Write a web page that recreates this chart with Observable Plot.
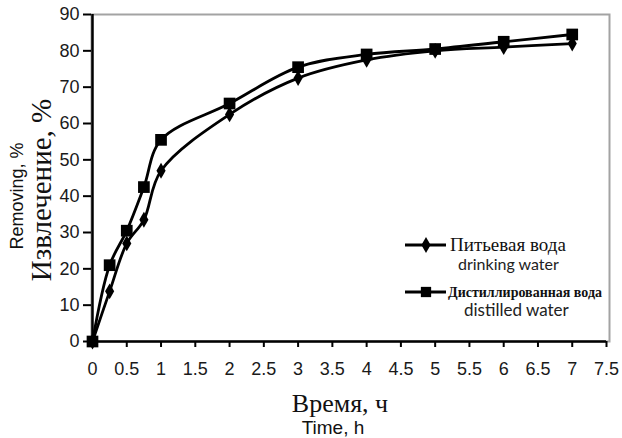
<!DOCTYPE html>
<html>
<head>
<meta charset="utf-8">
<script src="https://cdn.jsdelivr.net/npm/d3@7"></script>
<script src="https://cdn.jsdelivr.net/npm/@observablehq/plot@0.6"></script>
<style>
  html, body { margin: 0; padding: 0; background: #fff; }
  #chart svg { display: block; }
</style>
</head>
<body>
<div id="chart"></div>
<script>
// Sampling times, hours
const timeH = [0, 0.25, 0.5, 0.75, 1, 2, 3, 4, 5, 6, 7];
// Extraction, % — drinking water
const drinking = [0, 13.8, 27, 33.5, 47, 62.5, 72.5, 77.5, 80, 81, 82];
// Extraction, % — distilled water
const distilled = [0, 21, 30.5, 42.5, 55.5, 65.5, 75.5, 79, 80.5, 82.5, 84.5];

const seriesNames = ["Питьевая вода", "Дистиллированная вода"];
const seriesNamesEn = ["drinking water", "distilled water"];
const seriesSymbols = ["diamond", "square"];

const xTicks = [0, 0.5, 1, 1.5, 2, 2.5, 3, 3.5, 4, 4.5, 5, 5.5, 6, 6.5, 7, 7.5];
const yTicks = [0, 10, 20, 30, 40, 50, 60, 70, 80, 90];

const rows = [drinking, distilled].flatMap((vals, s) =>
  timeH.map((t, i) => ({t, v: vals[i], s: seriesNames[s], sym: seriesSymbols[s]}))
);

const W = 622, H = 438;
const svg = Plot.plot({
  width: W,
  height: H,
  marginLeft: 91,
  marginRight: 13,
  marginTop: 14,
  marginBottom: 97,
  style: {fontFamily: "Liberation Sans, Arial, sans-serif", fontSize: "18px", color: "#1a1a1a", background: "#fff"},
  x: {domain: [0, 7.5], range: [92, 606]},
  y: {domain: [0, 90]},
  marks: [
    Plot.frame({stroke: "#a3a3a3", strokeWidth: 2}),
    Plot.axisX({ticks: xTicks, tickSize: 6, tickPadding: 15, strokeWidth: 2, stroke: "#000",
      tickFormat: d => String(d), label: null}),
    Plot.axisY({ticks: yTicks, tickSize: 8, tickPadding: 4, strokeWidth: 2, stroke: "#000",
      label: null}),
    Plot.ruleX([0], {stroke: "#000", strokeWidth: 2.5}),
    Plot.ruleY([0], {stroke: "#000", strokeWidth: 2.5, x1: 0, x2: 7.5}),
    Plot.line(rows, {x: "t", y: "v", z: "s", stroke: "#000", strokeWidth: 2.8, curve: "catmull-rom"}),
    Plot.dot(rows.filter(d => d.sym === "diamond"), {x: "t", y: "v", symbol: "diamond", r: 4.8, fill: "#000"}),
    Plot.dot(rows.filter(d => d.sym === "square"), {x: "t", y: "v", symbol: "square", r: 6.6, fill: "#000"})
  ]
});

const root = d3.select(svg);
const serif = "Liberation Serif, 'Times New Roman', serif";

// Axis titles (Russian with English translation)
root.append("text")
  .attr("transform", "translate(51,190) rotate(-90)")
  .attr("text-anchor", "middle")
  .style("font-family", serif)
  .style("font-size", "29px")
  .attr("fill", "#111")
  .text("Извлечение, %");
root.append("text")
  .attr("transform", "translate(23,196) rotate(-90)")
  .attr("text-anchor", "middle")
  .style("font-size", "18px")
  .attr("fill", "#111")
  .text("Removing, %");
root.append("text")
  .attr("x", 340).attr("y", 412)
  .attr("text-anchor", "middle")
  .style("font-family", serif)
  .style("font-size", "26px")
  .attr("fill", "#111")
  .text("Время, ч");
root.append("text")
  .attr("x", 333).attr("y", 434)
  .attr("text-anchor", "middle")
  .style("font-size", "19px")
  .attr("fill", "#111")
  .text("Time, h");

// Legend
const legendY = [245, 292];
const ruFont = [
  {size: "19px", weight: "normal", x: 450, dy: 6},
  {size: "14px", weight: "bold", x: 448, dy: 5}
];
const enFont = [
  {size: "16px", x: 458, dy: 25},
  {size: "17px", x: 464, dy: 24}
];
const leg = root.append("g").attr("text-anchor", "start");
seriesNames.forEach((name, i) => {
  const y = legendY[i];
  leg.append("line").attr("x1", 405).attr("x2", 446).attr("y1", y).attr("y2", y)
    .attr("stroke", "#000").attr("stroke-width", 2.8);
  const sym = i === 0 ? d3.symbolDiamond : d3.symbolSquare;
  const size = i === 0 ? Math.PI * 4.8 * 4.8 : Math.PI * 5.8 * 5.8;
  leg.append("path").attr("d", d3.symbol(sym, size)()).attr("transform", `translate(426,${y})`).attr("fill", "#000");
  leg.append("text").attr("x", ruFont[i].x).attr("y", y + ruFont[i].dy)
    .attr("text-anchor", "start")
    .style("font-family", serif)
    .style("font-size", ruFont[i].size).style("font-weight", ruFont[i].weight)
    .attr("fill", "#111").text(name);
  leg.append("text").attr("x", enFont[i].x).attr("y", y + enFont[i].dy)
    .attr("text-anchor", "start")
    .style("font-family", "Lato, 'Open Sans', sans-serif")
    .style("font-size", enFont[i].size)
    .attr("fill", "#222").text(seriesNamesEn[i]);
});

document.getElementById("chart").appendChild(svg);
</script>
</body>
</html>
